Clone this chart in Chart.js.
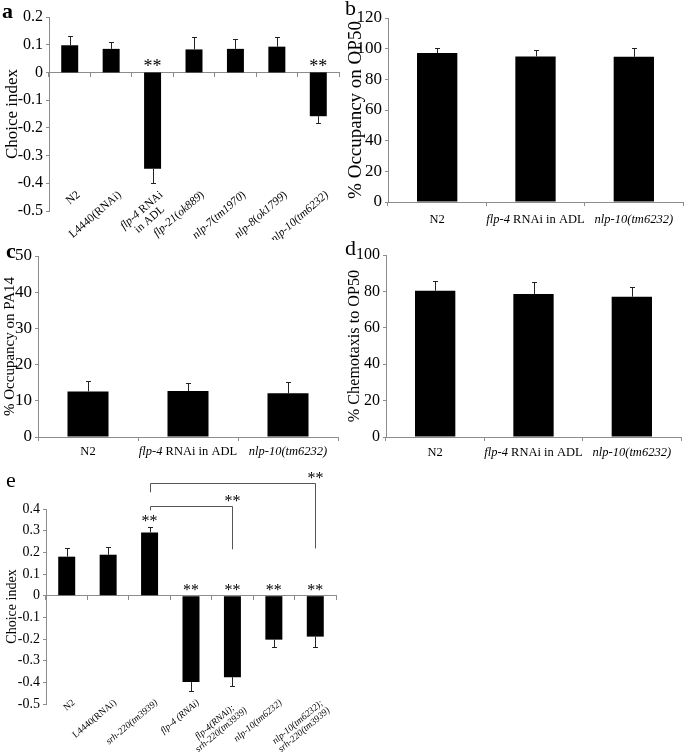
<!DOCTYPE html>
<html>
<head>
<meta charset="utf-8">
<script src="https://cdn.jsdelivr.net/npm/chart.js@4.4.1/dist/chart.umd.min.js"></script>
<style>
  html, body { margin: 0; padding: 0; background: #fff; }
  #wrap { position: relative; width: 685px; height: 752px; }
  canvas { position: absolute; }
</style>
</head>
<body>
<div id="wrap">
  <canvas id="canvasA" width="345" height="240" style="left:0px;top:0px"></canvas>
  <canvas id="canvasB" width="340" height="240" style="left:345px;top:0px"></canvas>
  <canvas id="canvasC" width="345" height="220" style="left:0px;top:240px"></canvas>
  <canvas id="canvasD" width="340" height="220" style="left:345px;top:240px"></canvas>
  <canvas id="canvasE" width="345" height="292" style="left:0px;top:460px"></canvas>
</div>
<script>
// panel a - choice index
// text between * * is set in italics
let labelsA = ['N2', 'L4440(RNAi)', '*flp-4* RNAi\nin ADL', '*flp-21*(*ok889*)', '*nlp-7*(*tm1970*)', '*nlp-8*(*ok1799*)', '*nlp-10(tm6232)*'];
let valuesA = [0.098, 0.085, -0.348, 0.083, 0.085, 0.093, -0.158];
let errorsA = [0.034, 0.024, 0.051, 0.045, 0.035, 0.035, 0.023];
let starsA = ['', '', '**', '', '', '', '**'];

// panels b, c, d share the same three strains
let labelsBCD = ['N2', '*flp-4* RNAi in ADL', '*nlp-10(tm6232)*'];
let valuesB = [97.1, 94.9, 94.7];
let errorsB = [3.3, 4.4, 5.7];
let valuesC = [12.6, 12.7, 12.1];
let errorsC = [3.0, 2.3, 3.2];
let valuesD = [80.4, 78.6, 77.1];
let errorsD = [5.2, 6.4, 5.2];

// panel e - choice index with srh-220
let labelsE = ['N2', 'L4440(RNAi)', '*srh-220(tm3939)*', '*flp-4 (RNAi)*', '*flp-4(RNAi);*\n*srh-220(tm3939)*', '*nlp-10(tm6232)*', '*nlp-10(tm6232);*\n*srh-220(tm3939)*'];
let valuesE = [0.180, 0.189, 0.292, -0.399, -0.376, -0.203, -0.189];
let errorsE = [0.040, 0.037, 0.026, 0.043, 0.039, 0.032, 0.049];
let starsE = ['', '', '**', '**', '**', '**', '**'];
// comparison brackets: bar indices and line heights in axis units
let bracketsE = [
    { from: 2, to: 4, top: 0.412, left: 0.394, right: 0.214, mark: '**' },
    { from: 2, to: 6, top: 0.518, left: 0.477, right: 0.218, mark: '**' }
];

const SERIF = '"Liberation Serif", "Times New Roman", serif';
const AXIS = '#8c8c8c';

function parseRich(str) {
    return str.split('*').map((t, i) => ({ t: t, it: i % 2 === 1 })).filter(s => s.t.length);
}
function segFont(s, size) {
    return (s.it ? 'italic ' : '') + size + 'px ' + SERIF;
}
function richWidth(ctx, segs, size) {
    let w = 0;
    segs.forEach(s => { ctx.font = segFont(s, size); w += ctx.measureText(s.t).width; });
    return w;
}
function drawRich(ctx, segs, x, y, size) {
    segs.forEach(s => {
        ctx.font = segFont(s, size);
        ctx.fillText(s.t, x, y);
        x += ctx.measureText(s.t).width;
    });
}
function drawStars(ctx, txt, x, cy, size) {
    ctx.font = size + 'px ' + SERIF;
    ctx.textAlign = 'center';
    ctx.textBaseline = 'alphabetic';
    ctx.fillText(txt, x, cy + size * 0.45);
}

const figPlugin = {
    id: 'fig',
    afterDatasetsDraw(chart, args, opts) {
        const ctx = chart.ctx;
        const ys = chart.scales.y;
        const xs = chart.scales.x;
        const area = chart.chartArea;
        const bars = chart.getDatasetMeta(0).data;
        const vals = chart.data.datasets[0].data;
        ctx.save();

        // one sided error bars
        ctx.strokeStyle = '#222';
        ctx.lineWidth = 1;
        vals.forEach((v, i) => {
            const x = Math.round(bars[i].x) + 0.5;
            const dir = v < 0 ? -1 : 1;
            const y1 = ys.getPixelForValue(v);
            const y2 = Math.round(ys.getPixelForValue(v + dir * opts.errors[i])) + 0.5;
            ctx.beginPath();
            ctx.moveTo(x, y1);
            ctx.lineTo(x, y2);
            ctx.moveTo(x - opts.cap, y2);
            ctx.lineTo(x + opts.cap, y2);
            ctx.stroke();
        });

        // significance marks
        ctx.fillStyle = '#000';
        (opts.stars || []).forEach((s, i) => {
            if (!s) return;
            const v = vals[i];
            const top = v >= 0 ? ys.getPixelForValue(v + opts.errors[i]) : ys.getPixelForValue(0);
            drawStars(ctx, s, bars[i].x, top - opts.starGap, opts.starSize);
        });

        // brackets
        (opts.brackets || []).forEach(b => {
            const x1 = Math.round(bars[b.from].x) + 0.5;
            const x2 = Math.round(bars[b.to].x) + 0.5;
            const yt = Math.round(ys.getPixelForValue(b.top)) + 0.5;
            ctx.strokeStyle = '#555';
            ctx.beginPath();
            ctx.moveTo(x1, ys.getPixelForValue(b.left));
            ctx.lineTo(x1, yt);
            ctx.lineTo(x2, yt);
            ctx.lineTo(x2, ys.getPixelForValue(b.right));
            ctx.stroke();
            drawStars(ctx, b.mark, x2, yt - opts.starGap, opts.starSize);
        });

        // category labels
        const lab = opts.labels;
        ctx.textAlign = 'left';
        ctx.textBaseline = 'top';
        chart.data.labels.forEach((txt, i) => {
            const cx = xs.getPixelForValue(i);
            const lines = txt.split('\n').map(parseRich);
            const widths = lines.map(l => richWidth(ctx, l, lab.size));
            const W = Math.max(...widths);
            const lh = lab.size * 1.05;
            if (lab.angle) {
                ctx.save();
                ctx.translate(cx + lab.dx, area.bottom + lab.dy);
                ctx.rotate(-lab.angle * Math.PI / 180);
                lines.forEach((l, k) => drawRich(ctx, l, -W / 2 - widths[k] / 2, k * lh, lab.size));
                ctx.restore();
            } else {
                ctx.textBaseline = 'middle';
                lines.forEach((l, k) => drawRich(ctx, l, cx - widths[k] / 2, area.bottom + lab.dy + k * lh, lab.size));
                ctx.textBaseline = 'top';
            }
        });

        // panel letter
        ctx.font = opts.letter.weight + ' 22px ' + SERIF;
        ctx.textAlign = 'left';
        ctx.textBaseline = 'alphabetic';
        ctx.fillText(opts.letter.text, opts.letter.x, opts.letter.y);
        ctx.restore();
    }
};

function tickFmt(v) {
    const r = Math.round(v * 10) / 10;
    return r === 0 ? '0' : String(r);
}

function makeChart(id, c) {
    return new Chart(document.getElementById(id), {
        type: 'bar',
        data: {
            labels: c.labels,
            datasets: [{
                data: c.values,
                backgroundColor: '#000',
                borderWidth: 0,
                barPercentage: 0.41,
                categoryPercentage: 1
            }]
        },
        options: {
            responsive: false,
            animation: false,
            layout: { padding: c.pad },
            plugins: {
                legend: { display: false },
                tooltip: { enabled: false },
                fig: c.fig
            },
            scales: {
                x: {
                    position: c.xAtZero ? { y: 0 } : 'bottom',
                    ticks: { display: false },
                    grid: { drawOnChartArea: false, tickLength: 4, color: AXIS },
                    border: { color: AXIS },
                    afterFit: s => { s.height = 0; }
                },
                y: {
                    min: c.min,
                    max: c.max,
                    ticks: {
                        stepSize: c.step,
                        color: '#000',
                        padding: 3,
                        font: { family: SERIF, size: c.tickSize },
                        callback: tickFmt
                    },
                    grid: { drawOnChartArea: false, tickLength: 3, color: AXIS },
                    border: { color: AXIS },
                    title: {
                        display: true,
                        text: c.title,
                        color: '#000',
                        font: { family: SERIF, size: c.titleSize },
                        padding: { top: c.titlePad, bottom: 0 }
                    },
                    afterFit: s => { s.width = c.yWidth; }
                }
            }
        },
        plugins: [figPlugin]
    });
}

document.addEventListener('DOMContentLoaded', function () {
    let chartA = makeChart('canvasA', {
        labels: labelsA, values: valuesA, xAtZero: true,
        min: -0.5, max: 0.2, step: 0.1, tickSize: 16,
        title: 'Choice index', titleSize: 17, titlePad: 2, yWidth: 49,
        pad: { left: 0, top: 17, right: 6, bottom: 29 },
        fig: {
            errors: errorsA, stars: starsA, cap: 2.5, starGap: 9, starSize: 18,
            labels: { size: 11.5, angle: 41, dx: 5, dy: -22 },
            letter: { text: 'a', x: 2, y: 18, weight: 'bold' }
        }
    });

    let chartB = makeChart('canvasB', {
        labels: labelsBCD, values: valuesB, xAtZero: false,
        min: 0, max: 120, step: 20, tickSize: 17,
        title: '% Occupancy on OP50', titleSize: 19, titlePad: 0, yWidth: 43,
        pad: { left: 0, top: 18, right: 2, bottom: 38 },
        fig: {
            errors: errorsB, cap: 2.5, starGap: 9, starSize: 15,
            labels: { size: 12.5, angle: 0, dy: 18 },
            letter: { text: 'b', x: 0, y: 15, weight: 'normal' }
        }
    });

    let chartC = makeChart('canvasC', {
        labels: labelsBCD, values: valuesC, xAtZero: false,
        min: 0, max: 50, step: 10, tickSize: 17,
        title: '% Occupancy on PA14', titleSize: 15, titlePad: 1.5, yWidth: 38,
        pad: { left: 0, top: 16, right: 7, bottom: 23 },
        fig: {
            errors: errorsC, cap: 2.5, starGap: 9, starSize: 15,
            labels: { size: 12.5, angle: 0, dy: 15 },
            letter: { text: 'c', x: 6, y: 18, weight: 'bold' }
        }
    });

    let chartD = makeChart('canvasD', {
        labels: labelsBCD, values: valuesD, xAtZero: false,
        min: 0, max: 100, step: 20, tickSize: 16,
        title: '% Chemotaxis to OP50', titleSize: 16.2, titlePad: 0.5, yWidth: 41,
        pad: { left: 0, top: 15, right: 4, bottom: 23 },
        fig: {
            errors: errorsD, cap: 2.5, starGap: 9, starSize: 15,
            labels: { size: 12.5, angle: 0, dy: 16 },
            letter: { text: 'd', x: 0, y: 15, weight: 'normal' }
        }
    });

    let chartE = makeChart('canvasE', {
        labels: labelsE, values: valuesE, xAtZero: true,
        min: -0.5, max: 0.4, step: 0.1, tickSize: 14,
        title: 'Choice index', titleSize: 14, titlePad: 3.5, yWidth: 46,
        pad: { left: 0, top: 49, right: 9, bottom: 48 },
        fig: {
            errors: errorsE, stars: starsE, brackets: bracketsE, cap: 2.5, starGap: 8, starSize: 16,
            labels: { size: 9.5, angle: 40, dx: 4, dy: -6 },
            letter: { text: 'e', x: 6, y: 27, weight: 'normal' }
        }
    });
});
</script>
</body>
</html>
